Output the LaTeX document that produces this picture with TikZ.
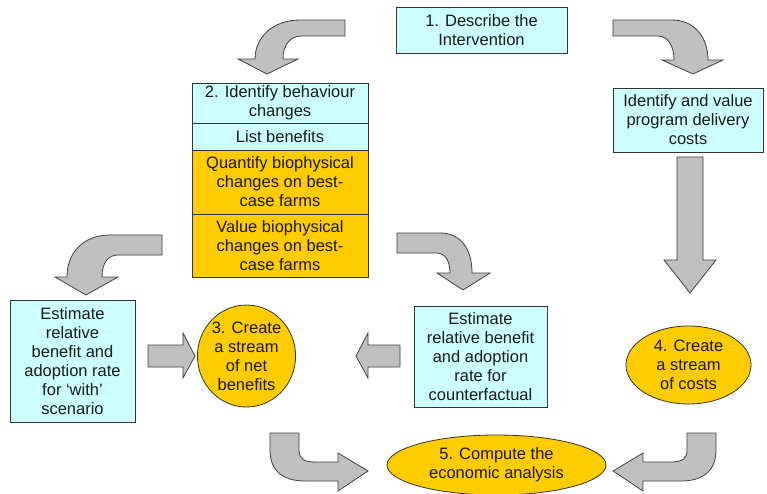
\documentclass[tikz,border=0pt]{standalone}
\usepackage{fontspec}
\setmainfont{Liberation Sans}
\usetikzlibrary{shapes.geometric}
\definecolor{lcyan}{HTML}{CCFFFF}
\definecolor{gold}{HTML}{FFCC00}
\definecolor{agray}{HTML}{C0C0C0}
\begin{document}
\begin{tikzpicture}[x=1pt,y=-1pt,
  txt/.style={font=\fontsize{16.5}{19}\selectfont, align=center, text=black!90, inner sep=0pt},
  cbox/.style={txt, draw=black!80, line width=0.8pt, fill=lcyan, rectangle},
  obox/.style={txt, draw=black!80, line width=0.8pt, fill=gold, rectangle},
  oell/.style={txt, draw=black!80, line width=0.8pt, fill=gold, ellipse},
  blk/.style={draw=black!75, line width=0.8pt, fill=agray, line join=miter}]
\useasboundingbox (0,0) rectangle (767,493);

% nodes
\node[cbox, minimum width=171pt, minimum height=46pt] (n1) at (481.5,30) {1. Describe the\\Intervention};
\node[cbox, minimum width=176pt, minimum height=40pt] (n2a) at (280,103) {2. Identify behaviour\\changes};
\node[cbox, minimum width=176pt, minimum height=27pt] (n2b) at (280,136.5) {List benefits};
\node[obox, minimum width=176pt, minimum height=64pt] (n2c) at (280,182) {Quantify biophysical\\changes on best-\\case farms};
\node[obox, minimum width=176pt, minimum height=63pt] (n2d) at (280,245.5) {Value biophysical\\changes on best-\\case farms};
\node[cbox, minimum width=150pt, minimum height=64pt] (nc) at (688,120) {Identify and value\\program delivery\\costs};
\node[cbox, minimum width=125pt, minimum height=122pt] (nw) at (72.5,361) {Estimate\\relative\\benefit and\\adoption rate\\for `with'\\scenario};
\node[cbox, minimum width=133pt, minimum height=101pt] (nf) at (480.5,356.5) {Estimate\\relative benefit\\and adoption\\rate for\\counterfactual};
\node[oell, minimum width=77pt, minimum height=102pt] (n3) at (246.5,356) {3. Create\\a stream\\of net\\benefits};
\node[oell, minimum width=125pt, minimum height=78pt] (n4) at (688.5,365) {4. Create\\a stream\\of costs};
\node[oell, minimum width=219pt, minimum height=60pt] (n5) at (496.5,465) {5. Compute the\\economic analysis};

% block arrows
\draw[blk] (345,20) -- (300,20) .. controls (272,20) and (255,38) .. (255,59) -- (238,59) -- (267,74) -- (298,59) -- (283,59) .. controls (283,45) and (290,36) .. (302,36) -- (345,36) -- cycle;
\draw[blk] (613,20) -- (672,20) .. controls (695,20) and (708,38) .. (708,60) -- (723,60) -- (693,74) -- (662,60) -- (674,60) .. controls (674,46) and (668,36) .. (658,36) -- (613,36) -- cycle;
\draw[blk] (677,157) -- (703,157) -- (703,260) -- (716,260) -- (690,293) -- (664,260) -- (677,260) -- cycle;
\draw[blk] (162,235) -- (110,235) .. controls (84,235) and (67,252) .. (67,277) -- (55,277) -- (86,295) -- (118,277) -- (102,277) .. controls (102,263) and (108,255) .. (118,255) -- (162,255) -- cycle;
\draw[blk] (397,233) -- (440,233) .. controls (460,233) and (472,248) .. (472,273) -- (490,273) -- (463,290) -- (437,273) -- (450,273) .. controls (450,262) and (446,253) .. (436,253) -- (397,253) -- cycle;
\draw[blk] (148,345) -- (183,345) -- (183,333) -- (195,356) -- (183,378) -- (183,367) -- (148,367) -- cycle;
\draw[blk] (400,345) -- (368,345) -- (368,333) -- (356,356) -- (368,378) -- (368,367) -- (400,367) -- cycle;
\draw[blk] (270,433) -- (299,433) -- (299,450) .. controls (299,458) and (303,462) .. (315,462) -- (338,462) -- (338,453) -- (368,471) -- (338,491) -- (338,481) -- (305,481) .. controls (282,481) and (270,470) .. (270,450) -- cycle;
\draw[blk] (716,433) -- (687,433) -- (687,450) .. controls (687,458) and (683,462) .. (671,462) -- (643,462) -- (643,453) -- (613,471) -- (643,491) -- (643,481) -- (681,481) .. controls (704,481) and (716,470) .. (716,450) -- cycle;
\end{tikzpicture}
\end{document}
